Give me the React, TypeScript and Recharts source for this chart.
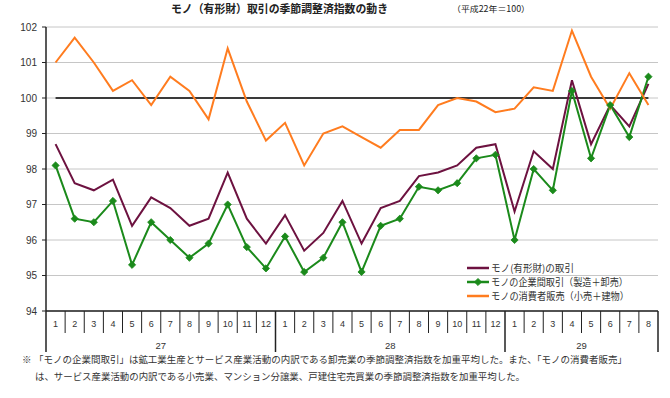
import React from 'react';
import { LineChart, Line, XAxis, YAxis, CartesianGrid, ReferenceLine, Legend } from 'recharts';

// ---- data ----
const years = ['27', '28', '29'];
const monthsInYear = [12, 12, 8];
const monthLabels = [
  '1', '2', '3', '4', '5', '6', '7', '8', '9', '10', '11', '12',
  '1', '2', '3', '4', '5', '6', '7', '8', '9', '10', '11', '12',
  '1', '2', '3', '4', '5', '6', '7', '8',
];
const totalGoods = [
  98.7, 97.6, 97.4, 97.7, 96.4, 97.2, 96.9, 96.4, 96.6, 97.9, 96.6, 95.9,
  96.7, 95.7, 96.2, 97.1, 95.9, 96.9, 97.1, 97.8, 97.9, 98.1, 98.6, 98.7,
  96.8, 98.5, 98.0, 100.5, 98.7, 99.8, 99.2, 100.4,
];
const businessGoods = [
  98.1, 96.6, 96.5, 97.1, 95.3, 96.5, 96.0, 95.5, 95.9, 97.0, 95.8, 95.2,
  96.1, 95.1, 95.5, 96.5, 95.1, 96.4, 96.6, 97.5, 97.4, 97.6, 98.3, 98.4,
  96.0, 98.0, 97.4, 100.2, 98.3, 99.8, 98.9, 100.6,
];
const consumerGoods = [
  101.0, 101.7, 101.0, 100.2, 100.5, 99.8, 100.6, 100.2, 99.4, 101.4, 99.9, 98.8,
  99.3, 98.1, 99.0, 99.2, 98.9, 98.6, 99.1, 99.1, 99.8, 100.0, 99.9, 99.6,
  99.7, 100.3, 100.2, 101.9, 100.6, 99.7, 100.7, 99.8,
];
const yTicks = [94, 95, 96, 97, 98, 99, 100, 101, 102];
const baseValue = 100;

const titleText = 'モノ（有形財）取引の季節調整済指数の動き';
const subTitleText = '（平成22年＝100）';
const noteMark = '※';
const noteLine1 = '「モノの企業間取引」は鉱工業生産とサービス産業活動の内訳である卸売業の季節調整済指数を加重平均した。また、「モノの消費者販売」';
const noteLine2 = 'は、サービス産業活動の内訳である小売業、マンション分譲業、戸建住宅売買業の季節調整済指数を加重平均した。';

const series = [
  { key: 'total', name: 'モノ(有形財)の取引', color: '#6d1240', marker: false, legendLen: 83 },
  { key: 'business', name: 'モノの企業間取引（製造＋卸売）', color: '#1b8a1b', marker: true, legendLen: 137 },
  { key: 'consumer', name: 'モノの消費者販売（小売＋建物）', color: '#ff7c1f', marker: false, legendLen: 138 },
];

// build rows
const rows: any[] = [];
{
  let i = 0;
  years.forEach((yr, yi) => {
    for (let m = 0; m < monthsInYear[yi]; m++) {
      rows.push({
        key: `${yr}-${monthLabels[i]}`,
        month: monthLabels[i],
        year: yr,
        posInYear: m,
        yearLen: monthsInYear[yi],
        total: totalGoods[i],
        business: businessGoods[i],
        consumer: consumerGoods[i],
      });
      i++;
    }
  });
}

// ---- layout ----
const W = 670;
const H = 398;
const MARGIN = { top: 27, right: 12, bottom: 45, left: 6 };
const Y_AXIS_W = 40;
const X_AXIS_H = 42;
const BAND = (W - MARGIN.left - MARGIN.right - Y_AXIS_W) / rows.length;
const FONT = "'Noto Sans CJK JP', 'Noto Sans', sans-serif";
const NUM_FONT = "'Liberation Sans', 'DejaVu Sans', sans-serif";
const AXIS_COLOR = '#222';

const MonthTick = (props: any) => {
  const { x, y, index } = props;
  const row = rows[index];
  if (!row) return <g />;
  const left = x - BAND / 2;
  const isYearStart = row.posInYear === 0;
  const isLast = index === rows.length - 1;
  return (
    <g>
      <line x1={left} y1={y} x2={left} y2={isYearStart ? y + 41 : y + 22} stroke={AXIS_COLOR} strokeWidth={isYearStart ? 1.5 : 1} />
      {isLast && (
        <line x1={x + BAND / 2} y1={y} x2={x + BAND / 2} y2={y + 41} stroke={AXIS_COLOR} strokeWidth={1.5} />
      )}
      <text x={x} y={y + 16} textAnchor="middle" fontSize={9} fill="#333" fontFamily={NUM_FONT}>
        {row.month}
      </text>
      {isYearStart && (
        <text x={x + ((row.yearLen - 1) / 2) * BAND} y={y + 38} textAnchor="middle" fontSize={9.5} fill="#333" fontFamily={NUM_FONT}>
          {row.year}
        </text>
      )}
    </g>
  );
};

const Diamond = (props: any) => {
  const { cx, cy, stroke } = props;
  if (cx == null || cy == null) return <g />;
  const r = 3.6;
  return <path d={`M${cx},${cy - r} L${cx + r},${cy} L${cx},${cy + r} L${cx - r},${cy} Z`} fill={stroke} stroke={stroke} strokeWidth={0.8} />;
};

const LegendContent = () => (
  <svg width={190} height={46} style={{ display: 'block', overflow: 'visible' }}>
    {series.map((s, i) => {
      const cy = 10 + i * 14;
      return (
        <g key={s.key}>
          <line x1={7} y1={cy} x2={29} y2={cy} stroke={s.color} strokeWidth={2.5} />
          {s.marker && <Diamond cx={18} cy={cy} stroke={s.color} />}
          <text x={31} y={cy + 3.5} fontSize={10} fill="#333" fontFamily={FONT} textLength={s.legendLen} lengthAdjust="spacingAndGlyphs">
            {s.name}
          </text>
        </g>
      );
    })}
  </svg>
);

export default function App() {
  return (
    <div style={{ position: 'absolute', left: 0, top: 0, width: W, height: H, background: '#fff' }}>
      <LineChart width={W} height={H} data={rows} margin={MARGIN}>
        <CartesianGrid horizontal={true} vertical={false} stroke="#c6c6c6" strokeWidth={1} />
        <XAxis
          dataKey="key"
          interval={0}
          height={X_AXIS_H}
          padding={{ left: BAND / 2, right: BAND / 2 }}
          tickSize={0}
          tickMargin={0}
          tickLine={false}
          axisLine={{ stroke: AXIS_COLOR, strokeWidth: 1.5 }}
          tick={(p: any) => <MonthTick {...p} />}
        />
        <YAxis
          width={Y_AXIS_W}
          domain={[94, 102]}
          ticks={yTicks}
          interval={0}
          allowDataOverflow
          tickSize={4}
          tickMargin={5}
          tickLine={{ stroke: AXIS_COLOR }}
          axisLine={{ stroke: AXIS_COLOR, strokeWidth: 1.5 }}
          tick={{ fontSize: 10, fill: '#333', fontFamily: NUM_FONT }}
        />
        <ReferenceLine
          segment={[{ x: rows[0].key, y: baseValue }, { x: rows[rows.length - 1].key, y: baseValue }]}
          stroke="#3a3a3a"
          strokeWidth={2}
        />
        {series.map((s) => (
          <Line
            key={s.key}
            type="linear"
            dataKey={s.key}
            name={s.name}
            stroke={s.color}
            strokeWidth={2}
            dot={s.marker ? (p: any) => <Diamond key={`d-${p.index}`} {...p} stroke={s.color} /> : false}
            activeDot={false}
            isAnimationActive={false}
          />
        ))}
        <Legend
          layout="vertical"
          align="center"
          verticalAlign="middle"
          content={() => <LegendContent />}
          wrapperStyle={{ position: 'absolute', left: 460, top: 258, width: 190, height: 46 }}
        />
      </LineChart>
      <svg width={W} height={H} style={{ position: 'absolute', left: 0, top: 0, pointerEvents: 'none' }}>
        <text x={171} y={12.5} fontSize={11.5} fontWeight="bold" fill="#222" fontFamily={FONT} textLength={217} lengthAdjust="spacingAndGlyphs">
          {titleText}
        </text>
        <text x={452} y={12} fontSize={8.5} fill="#222" fontFamily={FONT} textLength={78} lengthAdjust="spacingAndGlyphs">
          {subTitleText}
        </text>
        <text x={22} y={363} fontSize={9.5} fill="#333" fontFamily={FONT}>
          {noteMark}
        </text>
        <text x={34} y={363} fontSize={9.5} fill="#333" fontFamily={FONT} textLength={593} lengthAdjust="spacingAndGlyphs">
          {noteLine1}
        </text>
        <text x={35} y={380} fontSize={9.5} fill="#333" fontFamily={FONT} textLength={490} lengthAdjust="spacingAndGlyphs">
          {noteLine2}
        </text>
      </svg>
    </div>
  );
}
